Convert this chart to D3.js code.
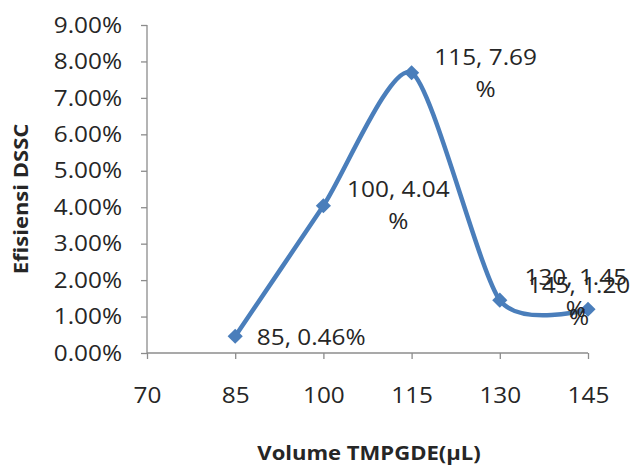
<!DOCTYPE html>
<html>
<head>
<meta charset="utf-8">
<script src="https://cdn.jsdelivr.net/npm/d3@7"></script>
<style>
  body { margin: 0; background: #fff; }
  text { font-family: "Open Sans", "Noto Sans", sans-serif; fill: #262626; }
</style>
</head>
<body>
<script>
// data
var volumes = [85, 100, 115, 130, 145];
var efisiensi = [0.46, 4.04, 7.69, 1.45, 1.20];
var xTicks = [70, 85, 100, 115, 130, 145];
var yTicks = [0, 1, 2, 3, 4, 5, 6, 7, 8, 9];
var pointLabels = [["85, 0.46%"], ["100, 4.04", "%"], ["115, 7.69", "%"], ["130, 1.45", "%"], ["145, 1.20", "%"]];

// where each data label sits relative to its point (centre x, first baseline)
var labelOffset = [[76, 9], [75, -9], [74, -8], [76, -15], [-9, -16]];

var width = 631, height = 466;
var plotLeft = 147, plotRight = 588, plotTop = 25, plotBottom = 353;
var fs = 21, sx = 1.16;   // the original text is a bit stretched sideways

var svg = d3.select("body").append("svg")
  .attr("width", width)
  .attr("height", height);

var x = d3.scaleLinear().domain([70, 145]).range([plotLeft, plotRight]);
var y = d3.scaleLinear().domain([0, 9]).range([plotBottom, plotTop]);

// y axis
var yAxis = svg.append("g").attr("transform", "translate(" + plotLeft + ",0)")
  .call(d3.axisLeft(y).tickValues(yTicks).tickSize(6)
    .tickFormat(function(d){ return d.toFixed(2) + "%"; }));
yAxis.selectAll(".tick text")
  .attr("font-size", fs)
  .attr("x", -25 / sx)
  .attr("dy", "0.34em")
  .attr("transform", "scale(" + sx + ",1)")
  .style("fill", "#262626");

// x axis, ticks hang below
var xAxis = svg.append("g").attr("transform", "translate(0," + plotBottom + ")")
  .call(d3.axisBottom(x).tickValues(xTicks).tickSize(6).tickFormat(d3.format("d")));
xAxis.selectAll(".tick text")
  .attr("font-size", fs)
  .attr("y", 50)
  .attr("dy", 0)
  .attr("transform", "scale(" + sx + ",1)")
  .style("fill", "#262626");

svg.selectAll(".domain, .tick line").attr("stroke", "#8c8c8c").attr("stroke-width", 1.3);
// axis domain without end caps
yAxis.select(".domain").attr("d", "M0," + plotTop + "V" + plotBottom);
xAxis.select(".domain").attr("d", "M" + plotLeft + ",0H" + plotRight);

var pts = volumes.map(function(v, i){ return [x(v), y(efisiensi[i])]; });

var line = d3.line().curve(d3.curveCardinal.tension(0.3));
svg.append("path")
  .attr("d", line(pts))
  .attr("fill", "none")
  .attr("stroke", "#4a7ebb")
  .attr("stroke-width", 4.5)
  .attr("stroke-linecap", "round");

svg.append("g").selectAll("path.marker")
  .data(pts)
  .enter().append("path")
  .attr("class", "marker")
  .attr("d", d3.symbol().type(d3.symbolSquare).size(115))
  .attr("transform", function(d){ return "translate(" + d[0] + "," + d[1] + ") rotate(45)"; })
  .attr("fill", "#4a7ebb");

// data labels
pointLabels.forEach(function(lines, i){
  var t = svg.append("text")
    .attr("text-anchor", "middle")
    .attr("font-size", fs)
    .attr("transform", "translate(" + (pts[i][0] + labelOffset[i][0]) + "," + (pts[i][1] + labelOffset[i][1]) + ") scale(" + sx + ",1)");
  lines.forEach(function(s, j){
    t.append("tspan")
      .attr("x", 0)
      .attr("dy", j == 0 ? 0 : 32)
      .text(s);
  });
});

// titles
svg.append("text")
  .attr("transform", "translate(28,199) rotate(-90) scale(" + sx + ",1)")
  .attr("text-anchor", "middle")
  .attr("font-size", 19)
  .attr("font-weight", "bold")
  .text("Efisiensi DSSC");

svg.append("text")
  .attr("transform", "translate(369,460) scale(" + sx + ",1)")
  .attr("text-anchor", "middle")
  .attr("font-size", 19)
  .attr("font-weight", "bold")
  .text("Volume TMPGDE(μL)");
</script>
</body>
</html>
